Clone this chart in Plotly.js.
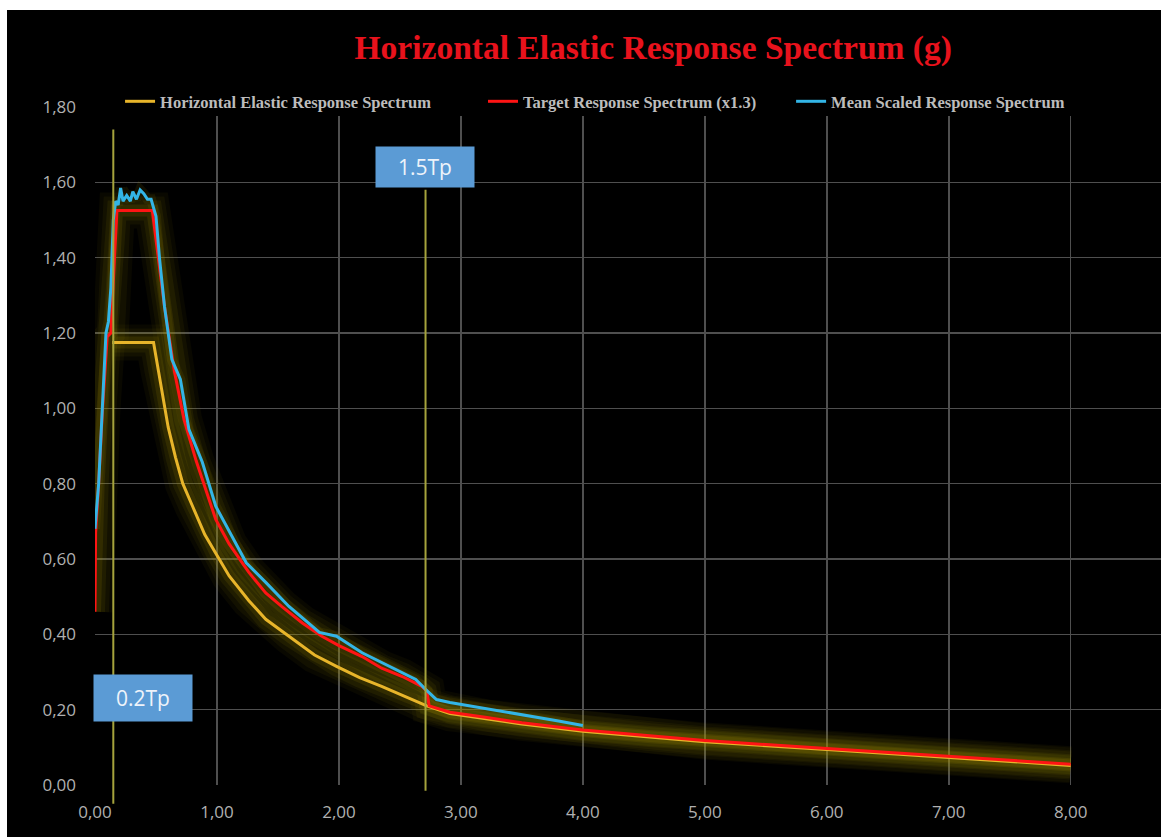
<!DOCTYPE html>
<html>
<head>
<meta charset="utf-8">
<script src="https://cdn.plot.ly/plotly-3.0.1.min.js"></script>
<style>
  html, body { margin: 0; padding: 0; background: #ffffff; width: 1161px; height: 837px; overflow: hidden; }
  #chart { position: absolute; left: 7px; top: 10px; width: 1154px; height: 827px; }
</style>
</head>
<body>
<div id="chart"></div>
<script>
// ---- data ----
const periodHorizontal = [0.14, 0.48, 0.52, 0.56, 0.60, 0.66, 0.72, 0.80, 0.90, 0.99, 1.10, 1.26, 1.40, 1.59, 1.80, 1.98, 2.17, 2.35, 2.55, 2.72, 2.91, 3.20, 3.50, 4.00, 4.55, 5.00, 6.00, 7.00, 8.00];
const saHorizontal     = [1.175, 1.175, 1.10, 1.02, 0.95, 0.87, 0.80, 0.74, 0.665, 0.615, 0.555, 0.49, 0.44, 0.395, 0.345, 0.315, 0.285, 0.262, 0.235, 0.21, 0.19, 0.177, 0.162, 0.143, 0.127, 0.115, 0.094, 0.073, 0.052];

const periodTarget = [0.00, 0.005, 0.03, 0.06, 0.10, 0.13, 0.16, 0.18, 0.47, 0.52, 0.57, 0.65, 0.73, 0.83, 0.99, 1.10, 1.26, 1.40, 1.53, 1.70, 1.86, 2.00, 2.19, 2.35, 2.52, 2.68, 2.72, 2.74, 2.91, 3.20, 3.50, 4.00, 4.55, 5.00, 6.00, 7.00, 8.00];
const saTarget     = [0.46, 0.67, 0.80, 0.99, 1.19, 1.20, 1.40, 1.525, 1.525, 1.40, 1.27, 1.10, 0.97, 0.86, 0.705, 0.64, 0.565, 0.51, 0.474, 0.43, 0.395, 0.37, 0.341, 0.31, 0.288, 0.262, 0.25, 0.21, 0.193, 0.18, 0.165, 0.146, 0.13, 0.118, 0.097, 0.076, 0.055];

const periodMean = [0.00, 0.03, 0.06, 0.09, 0.11, 0.13, 0.15, 0.17, 0.19, 0.21, 0.23, 0.26, 0.29, 0.31, 0.34, 0.37, 0.40, 0.43, 0.46, 0.50, 0.53, 0.57, 0.63, 0.70, 0.77, 0.88, 0.99, 1.12, 1.24, 1.40, 1.59, 1.84, 1.98, 2.19, 2.41, 2.63, 2.71, 2.80, 2.91, 3.20, 3.50, 3.80, 4.00];
const saMean     = [0.68, 0.80, 1.00, 1.20, 1.23, 1.32, 1.50, 1.55, 1.54, 1.585, 1.55, 1.565, 1.55, 1.575, 1.555, 1.58, 1.57, 1.555, 1.555, 1.51, 1.395, 1.27, 1.13, 1.077, 0.944, 0.857, 0.74, 0.66, 0.59, 0.538, 0.474, 0.405, 0.395, 0.351, 0.315, 0.28, 0.254, 0.227, 0.219, 0.203, 0.188, 0.17, 0.158];

const seriesNames = ['Horizontal Elastic Response Spectrum', 'Target Response Spectrum (x1.3)', 'Mean Scaled Response Spectrum'];

const xTickVals = [0, 1, 2, 3, 4, 5, 6, 7, 8];
const yTickVals = [0, 0.2, 0.4, 0.6, 0.8, 1.0, 1.2, 1.4, 1.6, 1.8];

const refLineX      = [0.15, 2.71];
const refLineTop    = [1.74, 1.58];
const refLineBottom = [-0.05, -0.015];
const refLabels     = ['0.2Tp', '1.5Tp'];
const refLabelX     = [0.39, 2.705];
const refLabelY     = [0.231, 1.64];

const titleText = 'Horizontal Elastic Response Spectrum (g)';
const yMax = 1.8;

// ---- styles ----
const colYellow = '#e8b52a';
const colRed = '#ff1414';
const colCyan = '#33b5e6';

function glow(x, y, w, c) {
  return { x: x, y: y, type: 'scatter', mode: 'lines', line: { color: c, width: w, shape: 'linear' },
           showlegend: false, hoverinfo: 'skip' };
}

const glowLayers = [[36, 'rgba(150,135,0,0.06)'], [28, 'rgba(160,145,0,0.07)'], [20, 'rgba(170,150,0,0.09)'], [12, 'rgba(180,160,0,0.12)']];
const traces = [];
glowLayers.forEach(function (g) {
  traces.push(glow(periodTarget, saTarget, g[0], g[1]));
  traces.push(glow(periodHorizontal, saHorizontal, g[0], g[1]));
});
traces.push(glow(periodMean, saMean, 10, 'rgba(170,150,0,0.10)'));
traces.push(
  { x: periodHorizontal, y: saHorizontal, type: 'scatter', mode: 'lines', name: seriesNames[0],
    line: { color: colYellow, width: 3 }, legend: 'legend' },
  { x: periodTarget, y: saTarget, type: 'scatter', mode: 'lines', name: seriesNames[1],
    line: { color: colRed, width: 3 }, legend: 'legend2' },
  { x: periodMean, y: saMean, type: 'scatter', mode: 'lines', name: seriesNames[2],
    line: { color: colCyan, width: 3 }, legend: 'legend3' }
);

const legendFont = { family: 'Liberation Serif, Times New Roman, serif', size: 16.5, color: '#bcbcbc', weight: 'bold' };
function legendAt(xp) {
  return { x: xp, xanchor: 'left', y: 1.008, yanchor: 'middle', orientation: 'h',
           bgcolor: 'rgba(0,0,0,0)', borderwidth: 0, font: legendFont, itemwidth: 30 };
}

const shapes = [
  { type: 'rect', xref: 'paper', x0: 0, x1: 1, yref: 'y', y0: 1.776, y1: 1.83,
    fillcolor: '#000000', line: { width: 0 }, layer: 'above' }
];
refLineX.forEach(function (xv, i) {
  shapes.push({ type: 'line', xref: 'x', yref: 'paper', x0: xv, x1: xv,
                y0: refLineBottom[i] / yMax, y1: refLineTop[i] / yMax,
                line: { color: '#a5a33c', width: 2 }, layer: 'above' });
});

const annotations = refLabels.map(function (t, i) {
  return { x: refLabelX[i], y: refLabelY[i], xref: 'x', yref: 'y', text: t, showarrow: false,
           xanchor: 'center', yanchor: 'middle', bgcolor: '#5b9bd5', borderpad: 0,
           width: 98, height: i === 0 ? 46 : 40, align: 'center', valign: 'middle',
           font: { family: 'Open Sans, sans-serif', size: 21, color: '#eef3fa' } };
});

const tickFont = { family: 'Open Sans, sans-serif', size: 17, color: '#b0b0b0' };

const layout = {
  width: 1154, height: 827,
  paper_bgcolor: '#000000', plot_bgcolor: '#000000',
  margin: { l: 88, r: 0, t: 97, b: 52, pad: 0 },
  separators: ',.',
  title: { text: titleText, xref: 'container', yref: 'container', x: 0.56, xanchor: 'center',
           y: 0.955, yanchor: 'middle',
           font: { family: 'Liberation Serif, Times New Roman, serif', size: 33.5, color: '#e8121c', weight: 'bold' } },
  xaxis: { range: [0, 8.74], tickmode: 'array', tickvals: xTickVals, tickformat: '.2f',
           showgrid: true, gridcolor: '#4f4f4f', gridwidth: 1.5, zeroline: false, showline: false,
           ticks: '', ticklabelstandoff: 15, tickfont: tickFont, fixedrange: true },
  yaxis: { range: [0, yMax], tickmode: 'array', tickvals: yTickVals, tickformat: '.2f',
           showgrid: true, gridcolor: '#4f4f4f', gridwidth: 1.5, zeroline: false, showline: false,
           ticks: '', ticklabelstandoff: 18, tickfont: tickFont, fixedrange: true },
  showlegend: true,
  legend: legendAt(0.0235),
  legend2: legendAt(0.364),
  legend3: legendAt(0.653),
  shapes: shapes,
  annotations: annotations
};

Plotly.newPlot('chart', traces, layout, { displayModeBar: false, staticPlot: true });
</script>
</body>
</html>
